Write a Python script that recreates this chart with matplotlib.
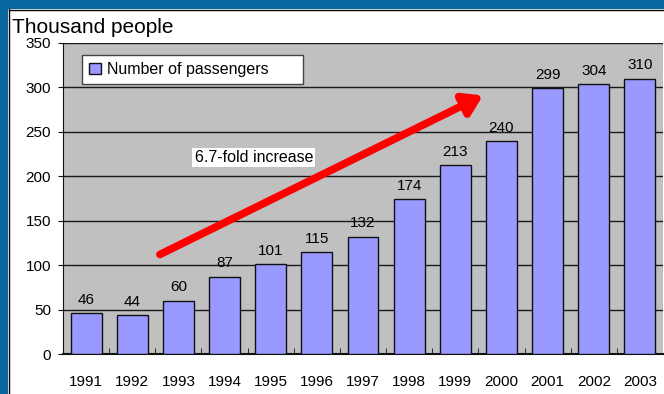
import matplotlib
matplotlib.use("Agg")
import matplotlib.pyplot as plt
from matplotlib.patches import Rectangle
import numpy as np

plt.rcParams['font.family'] = ['Liberation Sans', 'DejaVu Sans']

years = ['1991', '1992', '1993', '1994', '1995', '1996', '1997',
         '1998', '1999', '2000', '2001', '2002', '2003']
passengers = [46, 44, 60, 87, 101, 115, 132, 174, 213, 240, 299, 304, 310]
yticks = [0, 50, 100, 150, 200, 250, 300, 350]

W, H = 664, 394
fig = plt.figure(figsize=(W / 100, H / 100), dpi=100)
fig.patch.set_facecolor('white')

# blue frame (top and left)
blue = '#0a669e'
fig.patches.append(Rectangle((0, 1 - 9 / H), 1, 9 / H, transform=fig.transFigure,
                             facecolor=blue, edgecolor='none', zorder=0))
fig.patches.append(Rectangle((0, 0), 8 / W, 1, transform=fig.transFigure,
                             facecolor=blue, edgecolor='none', zorder=0))
fig.lines.append(plt.Line2D([8.5 / W, 8.5 / W], [0, 1 - 9 / H], transform=fig.transFigure,
                            color='black', lw=1))
fig.lines.append(plt.Line2D([8.5 / W, 1], [1 - 9.5 / H, 1 - 9.5 / H], transform=fig.transFigure,
                            color='black', lw=1))

left, right, top, bottom = 63, 663, 43, 354
ax = fig.add_axes([left / W, 1 - bottom / H, (right - left) / W, (bottom - top) / H])
ax.set_facecolor('#c0c0c0')

x = np.arange(len(years))
bars = ax.bar(x, passengers, width=0.67, color='#9999ff', edgecolor='#111111',
              linewidth=1.0, zorder=3, label='Number of passengers')
for xi, v in zip(x, passengers):
    ax.text(xi, v + 7, str(v), ha='center', va='bottom', fontsize=11, zorder=4)

ax.set_xlim(-0.5, len(years) - 0.5)
ax.set_ylim(0, 350)
ax.set_yticks(yticks)
ax.set_yticklabels([str(t) for t in yticks], fontsize=11)
ax.yaxis.grid(True, color='#1a1a1a', lw=1.0, zorder=1)
ax.set_axisbelow(True)

ax.set_xticks(x)
ax.set_xticklabels(years, fontsize=11)
ax.tick_params(axis='x', length=0, pad=15)
ax.set_xticks(np.arange(0.5, len(years) - 0.5, 1), minor=True)
ax.tick_params(axis='x', which='minor', direction='in', length=4, color='#111111')
ax.tick_params(axis='y', direction='out', length=3.6, pad=5, color='#111111')

for s in ['top', 'right']:
    ax.spines[s].set_visible(False)
ax.spines['left'].set_color('#111111')
ax.spines['bottom'].set_color('#111111')
ax.spines['bottom'].set_linewidth(1.5)

leg = ax.legend(loc='upper left', bbox_to_anchor=(0.032, 0.962, 0.368, 0.0), mode='expand',
                fontsize=11.5, frameon=True, fancybox=False, handlelength=0.7,
                handleheight=0.7, handletextpad=0.4, borderpad=0.45, borderaxespad=0,
                framealpha=1.0, facecolor='white')
leg.get_frame().set_edgecolor('#444444')
leg.get_frame().set_linewidth(1.0)

# arrow
ax.annotate('', xy=(8.6, 291), xytext=(1.6, 112),
            arrowprops=dict(arrowstyle='-|>,head_length=1.1,head_width=0.7',
                            color='#ff0000', lw=5.5, shrinkA=0, shrinkB=0),
            zorder=5)

ax.text(2.35, 221, '6.7-fold increase', fontsize=11.5, ha='left', va='center',
        bbox=dict(facecolor='white', edgecolor='none', pad=1.5), zorder=6)

fig.text(12 / W, 1 - 33 / H, 'Thousand people', fontsize=15, ha='left', va='baseline')

fig.savefig('out.png', dpi=100)
